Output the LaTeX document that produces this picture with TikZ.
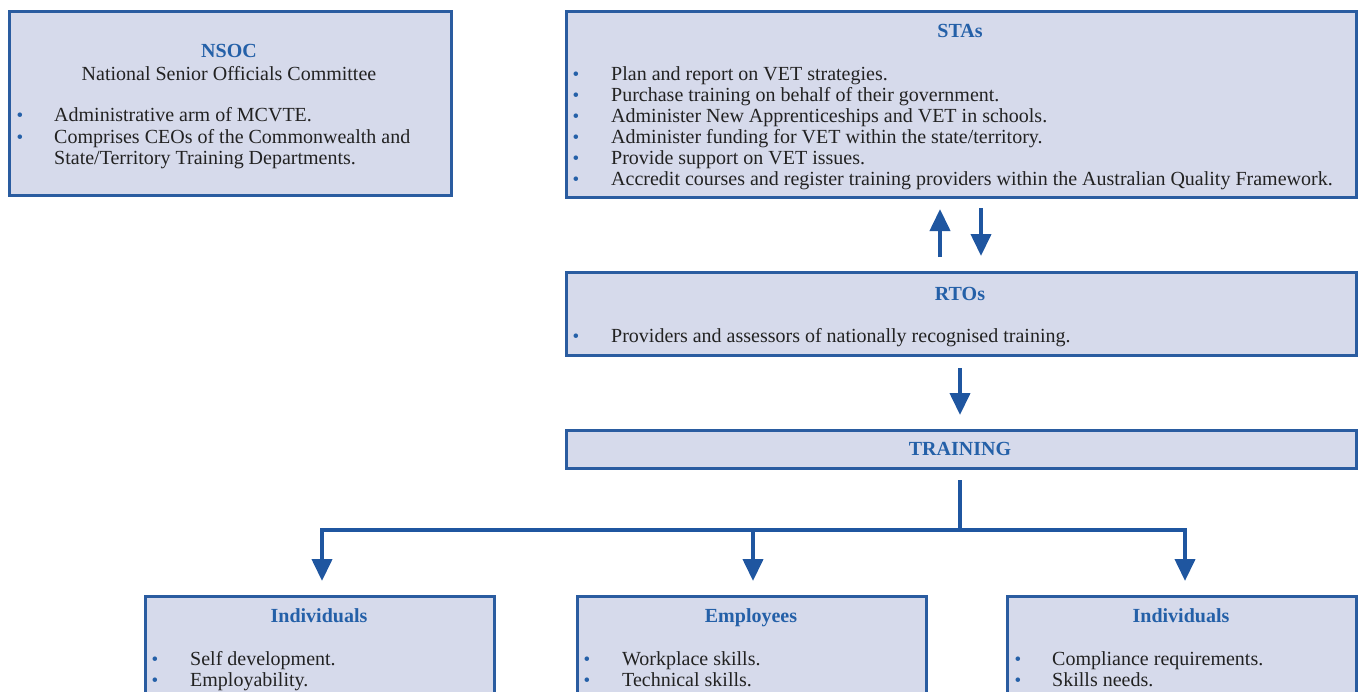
\documentclass[tikz,border=0pt]{standalone}
\usepackage{fontspec}
\setmainfont{Liberation Serif}
\usetikzlibrary{arrows.meta}
\definecolor{boxfill}{HTML}{D6DAEB}
\definecolor{boxline}{HTML}{2A5CA0}
\definecolor{titleblue}{HTML}{2460A8}
\definecolor{arrowblue}{HTML}{1F56A0}
\definecolor{txt}{HTML}{222222}
\tikzset{
  x=1pt,y=-1pt,
  panel/.style={draw=boxline,line width=2.6pt,fill=boxfill,rectangle,anchor=north west,inner sep=0pt},
  ttl/.style={text=titleblue,font=\fontsize{20}{22}\selectfont\bfseries,anchor=base,inner sep=0pt},
  sub/.style={text=txt,font=\fontsize{20}{22}\selectfont,anchor=base,inner sep=0pt},
  line/.style={text=txt,font=\fontsize{20}{22}\selectfont,anchor=base west,inner sep=0pt},
  bul/.style={text=titleblue,font=\fontsize{19}{20}\selectfont,anchor=base,inner sep=0pt},
  conn/.style={draw=arrowblue,line width=4pt},
  arr/.style={conn,-{Triangle[width=20pt,length=22pt]}},
}
\begin{document}
\begin{tikzpicture}
\useasboundingbox (0,0) rectangle (1359,691);
\clip (0,0) rectangle (1359,691);
% boxes
\node[panel,minimum width=442pt,minimum height=184pt] (nsoc) at (8,10) {};
\node[panel,minimum width=790pt,minimum height=186pt] (stas) at (565,10) {};
\node[panel,minimum width=790pt,minimum height=83pt] (rtos) at (565,271) {};
\node[panel,minimum width=790pt,minimum height=38pt] (train) at (565,429) {};
\node[panel,minimum width=349pt,minimum height=120pt] (ind1) at (144,595) {};
\node[panel,minimum width=349pt,minimum height=120pt] (emp) at (576,595) {};
\node[panel,minimum width=349pt,minimum height=120pt] (ind2) at (1006,595) {};
% NSOC text
\node[ttl] (nsoct) at (229,57) {NSOC};
\node[sub] (nsocs) at (229,80) {National Senior Officials Committee};
\node[bul] (nb1) at (20,121) {\textbullet};
\node[line] (n1) at (54,121) {Administrative arm of MCVTE.};
\node[bul] (nb2) at (20,143) {\textbullet};
\node[line] (n2) at (54,143) {Comprises CEOs of the Commonwealth and};
\node[line] (n3) at (54,164) {State/Territory Training Departments.};
% STAs text
\node[ttl] (stat) at (960,37) {STAs};
\foreach \y/\t [count=\i] in {80/{Plan and report on VET strategies.},
  101/{Purchase training on behalf of their government.},
  122/{Administer New Apprenticeships and VET in schools.},
  143/{Administer funding for VET within the state/territory.},
  164/{Provide support on VET issues.},
  185/{Accredit courses and register training providers within the Australian Quality Framework.}}{
  \node[bul] (sb\i) at (576,\y) {\textbullet};
  \node[line] (s\i) at (611,\y) {\t};
}
% RTOs text
\node[ttl] (rtot) at (960,300) {RTOs};
\node[bul] (rb1) at (576,342) {\textbullet};
\node[line] (r1) at (611,342) {Providers and assessors of nationally recognised training.};
% TRAINING
\node[ttl] (traint) at (960,455) {TRAINING};
% bottom boxes
\node[ttl] (i1t) at (319,622) {Individuals};
\node[bul] (i1b1) at (155,665) {\textbullet};
\node[line] (i1l1) at (190,665) {Self development.};
\node[bul] (i1b2) at (155,686) {\textbullet};
\node[line] (i1l2) at (190,686) {Employability.};
\node[ttl] (et) at (751,622) {Employees};
\node[bul] (eb1) at (587,665) {\textbullet};
\node[line] (el1) at (622,665) {Workplace skills.};
\node[bul] (eb2) at (587,686) {\textbullet};
\node[line] (el2) at (622,686) {Technical skills.};
\node[ttl] (i2t) at (1181,622) {Individuals};
\node[bul] (i2b1) at (1018,665) {\textbullet};
\node[line] (i2l1) at (1052,665) {Compliance requirements.};
\node[bul] (i2b2) at (1018,686) {\textbullet};
\node[line] (i2l2) at (1052,686) {Skills needs.};
% connectors
\coordinate (upS) at (940,257);
\coordinate (upE) at (940,209);
\coordinate (dnS) at (981,208);
\coordinate (dnE) at (981,256);
\draw[arr] (upS) -- (upE);
\draw[arr] (dnS) -- (dnE);
\coordinate (rtS) at (960,368);
\coordinate (rtE) at (960,415);
\draw[arr] (rtS) -- (rtE);
\coordinate (trS) at (960,480);
\coordinate (hub) at (960,530);
\coordinate (hL) at (322,530);
\coordinate (hM) at (753,530);
\coordinate (hR) at (1185,530);
\draw[conn] (trS) -- (hub);
\draw[conn,line cap=rect] (hL) -- (hR);
\draw[arr] (hL) -- (322,581);
\draw[arr] (hM) -- (753,581);
\draw[arr] (hR) -- (1185,581);
\end{tikzpicture}
\end{document}
